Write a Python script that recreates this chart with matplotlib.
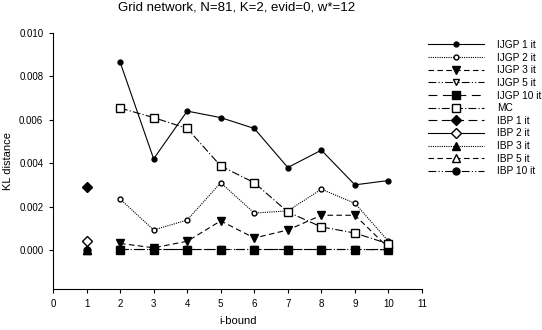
import matplotlib
matplotlib.use("Agg")
import matplotlib.pyplot as plt
from matplotlib.ticker import FormatStrFormatter

plt.rcParams['font.family'] = ['Liberation Sans', 'DejaVu Sans']

ibound = [2, 3, 4, 5, 6, 7, 8, 9, 10]
ijgp1 = [0.00866, 0.0042, 0.0064, 0.0061, 0.0056, 0.0038, 0.0046, 0.0030, 0.0032]
ijgp2 = [0.00235, 0.00092, 0.00138, 0.0031, 0.0017, 0.0018, 0.0028, 0.00215, 0.0004]
ijgp3 = [0.0003, 0.0001, 0.0004, 0.00134, 0.00055, 0.00092, 0.0016, 0.0016, 0.0001]
ijgp5 = [0.00003, 0.00003, 0.00003, 0.00003, 0.00003, 0.00003, 0.00003, 0.00003, 0.00003]
ijgp10 = [0.00002, 0.00002, 0.00002, 0.00002, 0.00002, 0.00002, 0.00002, 0.00002, 0.00001]
mc = [0.00654, 0.0061, 0.0056, 0.00387, 0.0031, 0.00175, 0.00106, 0.00078, 0.00028]

ibp_x = [1]
ibp1 = [0.0029]
ibp2 = [0.00042]
ibp3 = [0.00002]
ibp5 = [0.00002]
ibp10 = [0.00002]

fig = plt.figure(figsize=(5.42, 3.30), dpi=100)
ax = fig.add_axes([53/542, 1-289/330, (422-53)/542, (289-33)/330])

lw = 0.8
ax.plot(ibound, ijgp1, color='black', lw=lw, ls='-', marker='o', ms=3.5, mfc='black', label='IJGP 1 it')
ax.plot(ibound, ijgp2, color='black', lw=lw, ls=(0, (1, 1)), marker='o', ms=3.5, mfc='white', label='IJGP 2 it')
ax.plot(ibound, ijgp3, color='black', lw=lw, ls=(0, (5, 3)), marker='v', ms=6, mfc='black', label='IJGP 3 it')
ax.plot(ibound, ijgp5, color='black', lw=lw, ls=(0, (7, 2, 1, 2, 1, 2)), marker='v', ms=5, mfc='white', label='IJGP 5 it')
ax.plot(ibound, ijgp10, color='black', lw=lw, ls=(0, (8, 5)), marker='s', ms=5.5, mfc='black', label='IJGP 10 it')
ax.plot(ibound, mc, color='black', lw=lw, ls=(0, (7, 2, 1, 2)), marker='s', ms=6, mfc='white', label='MC')
ax.plot(ibp_x, ibp1, color='black', lw=lw, ls=(0, (8, 4)), marker='D', ms=5, mfc='black', label='IBP 1 it')
ax.plot(ibp_x, ibp2, color='black', lw=lw, ls='-', marker='D', ms=5, mfc='white', label='IBP 2 it')
ax.plot(ibp_x, ibp3, color='black', lw=lw, ls=(0, (1, 1)), marker='^', ms=5.5, mfc='black', label='IBP 3 it')
ax.plot(ibp_x, ibp5, color='black', lw=lw, ls=(0, (5, 3)), marker='^', ms=5.5, mfc='white', label='IBP 5 it')
ax.plot(ibp_x, ibp10, color='black', lw=lw, ls=(0, (7, 2, 1, 2, 1, 2)), marker='o', ms=5, mfc='black', label='IBP 10 it')

ax.set_xlim(0, 11)
ax.set_ylim(-0.0018, 0.010)
ax.set_xticks(range(0, 12))
ax.set_yticks([0.0, 0.002, 0.004, 0.006, 0.008, 0.010])
ax.yaxis.set_major_formatter(FormatStrFormatter('%.3f'))
for s in ['top', 'right']:
    ax.spines[s].set_visible(False)
for s in ['left', 'bottom']:
    ax.spines[s].set_linewidth(0.8)
ax.tick_params(direction='out', length=3, width=0.8, labelsize=7, pad=4)

ax.set_xlabel('i-bound', fontsize=8, labelpad=5)
ax.set_ylabel('KL distance', fontsize=8, labelpad=4)
fig.text(237/542, 1-2/330, 'Grid network, N=81, K=2, evid=0, w*=12', ha='center', va='top', fontsize=9.5)

fig.legend(loc='upper left', bbox_to_anchor=(428/542, 1-40/330), frameon=False,
           fontsize=7.3, handlelength=5.5, labelspacing=0.26, handletextpad=1.35,
           borderaxespad=0, borderpad=0)

fig.savefig('out.png', dpi=100)
